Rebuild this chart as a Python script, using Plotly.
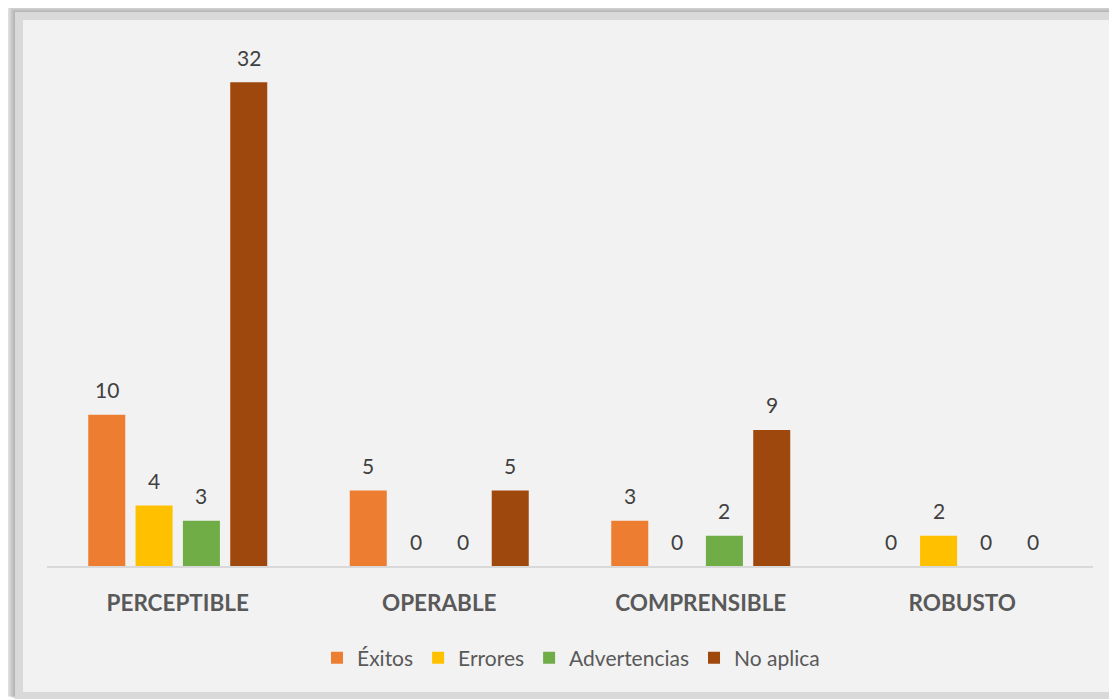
import plotly.graph_objects as go

categories = ["PERCEPTIBLE", "OPERABLE", "COMPRENSIBLE", "ROBUSTO"]
series_names = ["Éxitos", "Errores", "Advertencias", "No aplica"]
exitos = [10, 5, 3, 0]
errores = [4, 0, 0, 2]
advertencias = [3, 0, 2, 0]
no_aplica = [32, 5, 9, 0]
series_values = [exitos, errores, advertencias, no_aplica]
colors = ["#ED7D31", "#FFC000", "#70AD47", "#9E480E"]

W, H = 1117, 700
OFF = 8  # page offset of the figure (body margin)
ML, MT = 47 - OFF, 37 - OFF
PLOT_W, PLOT_H = 1046, 529
MR = W - ML - PLOT_W
MB = H - MT - PLOT_H
BARGAP = 0.276
BARGROUPGAP = 0.218
FONT = "Lato"

fig = go.Figure()
for name, vals, col in zip(series_names, series_values, colors):
    fig.add_trace(go.Bar(
        x=categories, y=vals, name=name,
        marker=dict(color=col, line=dict(width=0)),
        hoverinfo="x+y+name",
    ))

# data labels above each bar
cat_w = PLOT_W / len(categories)
slot = cat_w * (1 - BARGAP) / len(series_names)
annotations = []
for j, vals in enumerate(series_values):
    for cat, v in zip(categories, vals):
        annotations.append(dict(
            x=cat, y=v, xref="x", yref="y", text=str(v), showarrow=False,
            xshift=(j - (len(series_names) - 1) / 2) * slot, yshift=25,
            yanchor="middle", font=dict(family=FONT, size=21, color="#404040"),
        ))

# helpers: page pixel -> paper coordinate
def px(xp):
    return (xp - OFF - ML) / PLOT_W
def py(yp):
    return (MT + PLOT_H - (yp - OFF)) / PLOT_H

shapes = []
# soft shadow (left and top of the frame)
for k in range(1, 11):
    shapes.append(dict(type="rect", xref="paper", yref="paper", layer="below",
                       x0=px(15 - k), x1=px(W + 10), y0=py(699 - 0.3 * k), y1=py(12 - 0.8 * k),
                       fillcolor="rgba(0,0,0,0.03)", line=dict(width=0)))
shapes.append(dict(type="rect", xref="paper", yref="paper", layer="below",
                   x0=px(15), x1=px(W + 10), y0=py(699), y1=py(12),
                   fillcolor="#D9D9D9", line=dict(width=0)))
shapes.append(dict(type="rect", xref="paper", yref="paper", layer="below",
                   x0=px(23), x1=px(1109), y0=py(692), y1=py(20),
                   fillcolor="#F2F2F2", line=dict(width=0)))

fig.update_layout(
    width=W, height=H,
    margin=dict(l=ML, r=MR, t=MT, b=MB, pad=0),
    paper_bgcolor="white",
    plot_bgcolor="rgba(0,0,0,0)",
    barmode="group", bargap=BARGAP, bargroupgap=BARGROUPGAP,
    font=dict(family=FONT, color="#595959"),
    showlegend=True,
    legend=dict(orientation="h", x=px(571), xanchor="center", y=py(658), yanchor="middle",
                font=dict(family=FONT, size=21, color="#595959"),
                bgcolor="rgba(0,0,0,0)", traceorder="normal"),
    xaxis=dict(showline=True, linecolor="#D9D9D9", linewidth=2, ticks="",
               showgrid=False, zeroline=False,
               tickfont=dict(family=FONT, size=22.5, color="#595959", weight="bold"),
               ticklabelstandoff=16),
    yaxis=dict(range=[0, 35], visible=False, showgrid=False, zeroline=False),
    annotations=annotations,
    shapes=shapes,
)

fig.write_html("out.html")
